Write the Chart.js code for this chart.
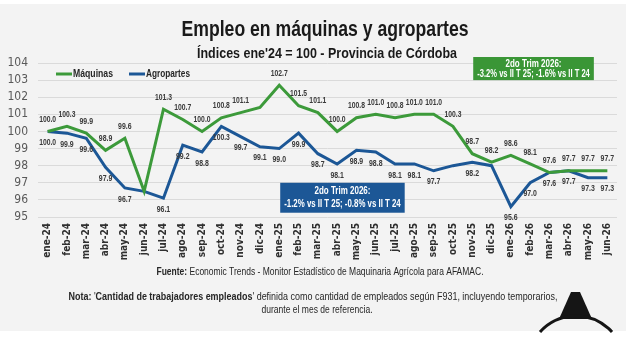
<!DOCTYPE html>
<html>
<head>
<meta charset="utf-8">
<script src="https://cdn.jsdelivr.net/npm/chart.js@4.4.0/dist/chart.umd.min.js"></script>
<style>
  html, body { margin: 0; padding: 0; background: #fff; }
  #wrap { width: 632px; height: 340px; position: relative; }
</style>
</head>
<body>
<div id="wrap"><canvas id="empleo"></canvas></div>
<script>
const meses = ['ene-24', 'feb-24', 'mar-24', 'abr-24', 'may-24', 'jun-24', 'jul-24', 'ago-24', 'sep-24', 'oct-24', 'nov-24', 'dic-24',
  'ene-25', 'feb-25', 'mar-25', 'abr-25', 'may-25', 'jun-25', 'jul-25', 'ago-25', 'sep-25', 'oct-25', 'nov-25', 'dic-25',
  'ene-26', 'feb-26', 'mar-26', 'abr-26', 'may-26', 'jun-26'];
const maquinas = [100.0, 100.3, 99.9, 98.9, 99.6, 96.5, 101.3, 100.7, 100.0, 100.8, 101.1, 101.4,
  102.7, 101.5, 101.1, 100.0, 100.8, 101.0, 100.8, 101.0, 101.0, 100.3, 98.7, 98.2,
  98.6, 98.1, 97.6, 97.7, 97.7, 97.7];
const agropartes = [100.0, 99.9, 99.6, 97.9, 96.7, 96.5, 96.1, 99.2, 98.8, 100.3, 99.7, 99.1,
  99.0, 99.9, 98.7, 98.1, 98.9, 98.8, 98.1, 98.1, 97.7, 98.0, 98.2, 98.0,
  95.6, 97.0, 97.6, 97.7, 97.3, 97.3];
const yTicks = [95, 96, 97, 98, 99, 100, 101, 102, 103, 104];
// puntos sin etiqueta en el original
const sinEtiquetaMaq = [5, 11];
const sinEtiquetaAgro = [5, 21, 23];

const VERDE = '#3c9a3a';
const AZUL = '#1c5796';
const FAM = '"Liberation Sans", Arial, sans-serif';
const NARROW = '"Liberation Sans Narrow", "DejaVu Sans Condensed", sans-serif';

// texto con ancho fijo: se comprime en horizontal (fuente condensada del original)
function texto(c, text, weight, size, width, x, y, color, align) {
  c.save();
  c.font = weight + ' ' + size + 'px ' + FAM;
  const k = width / c.measureText(text).width;
  c.fillStyle = color;
  c.textAlign = align || 'center';
  c.textBaseline = 'middle';
  c.translate(x, y);
  c.scale(k, 1);
  c.fillText(text, 0, 0);
  c.restore();
}

function runs(c, partes, size, width, cx, cy, color) {
  c.save();
  let total = 0;
  partes.forEach(p => { c.font = p[1] + ' ' + size + 'px ' + FAM; total += c.measureText(p[0]).width; });
  c.translate(cx - width / 2, cy);
  c.scale(width / total, 1);
  c.textAlign = 'left';
  c.textBaseline = 'middle';
  c.fillStyle = color;
  let x = 0;
  partes.forEach(p => {
    c.font = p[1] + ' ' + size + 'px ' + FAM;
    c.fillText(p[0], x, 0);
    x += c.measureText(p[0]).width;
  });
  c.restore();
}

function caja(chart, x0, x1, y0, y1, color, l1, l2) {
  const c = chart.ctx;
  const sx = chart.scales.x, sy = chart.scales.y;
  const left = sx.getPixelForValue(x0), right = sx.getPixelForValue(x1);
  const top = sy.getPixelForValue(y0), bottom = sy.getPixelForValue(y1);
  c.fillStyle = color;
  c.fillRect(left, top, right - left, bottom - top);
  const cx = (left + right) / 2, h = bottom - top;
  texto(c, l1, 'bold', 11, 56, cx, top + h * 0.29, '#fff');
  texto(c, l2, 'bold', 11, (right - left) - 8, cx, top + h * 0.72, '#fff');
}

const decor = {
  id: 'decor',
  beforeDraw(chart) {
    const c = chart.ctx;
    c.save();
    c.fillStyle = '#ffffff';
    c.fillRect(0, 0, chart.width, chart.height);
    c.fillStyle = '#f3f3f3';
    c.fillRect(0, 4, 626, 327);
    c.restore();
  },
  afterDraw(chart) {
    const c = chart.ctx;
    c.save();
    texto(c, 'Empleo en máquinas y agropartes', 'bold', 22, 287, 325, 30, '#1a1a1a');
    texto(c, "Índices ene'24 = 100 - Provincia de Córdoba", 'bold', 15, 260, 327, 54, '#1a1a1a');

    // leyenda
    c.lineWidth = 3;
    c.strokeStyle = VERDE;
    c.beginPath(); c.moveTo(56, 74); c.lineTo(72, 74); c.stroke();
    c.strokeStyle = AZUL;
    c.beginPath(); c.moveTo(129, 74); c.lineTo(145, 74); c.stroke();
    texto(c, 'Máquinas', 'bold', 11, 40, 73, 74, '#262626', 'left');
    texto(c, 'Agropartes', 'bold', 11, 44, 146, 74, '#262626', 'left');

    caja(chart, 22.05, 28.3, 104.35, 103.0, '#3a9636', '2do Trim 2026:', '-3.2% vs II T 25; -1.6% vs II T 24');
    caja(chart, 12.05, 18.5, 97.0, 95.25, AZUL, '2do Trim 2026:', '-1.2% vs II T 25; -0.8% vs II T 24');

    // fuente y nota
    runs(c, [['Fuente:', 'bold'], [' Economic Trends - Monitor Estadístico de Maquinaria Agrícola para AFAMAC.', 'normal']],
      11, 327, 320, 272, '#262626');
    runs(c, [['Nota: ', 'bold'], ["'", 'normal'], ['Cantidad de trabajadores empleados', 'bold'],
      ["' definida como cantidad de empleados según F931, incluyendo temporarios,", 'normal']],
      11, 489, 313, 297, '#262626');
    texto(c, 'durante el mes de referencia.', 'normal', 11, 111, 317, 310, '#262626');

    // logo
    c.fillStyle = '#151515';
    c.beginPath();
    c.moveTo(571, 292); c.lineTo(580, 292); c.lineTo(592, 319); c.lineTo(559, 319);
    c.closePath(); c.fill();
    c.strokeStyle = '#151515'; c.lineWidth = 3;
    c.beginPath(); c.arc(576, 364.5, 48.5, Math.PI + 0.734, 2 * Math.PI - 0.734); c.stroke();
    c.restore();
  }
};

const etiquetas = {
  id: 'etiquetas',
  afterDatasetsDraw(chart) {
    const c = chart.ctx;
    chart.data.datasets.forEach((ds, i) => {
      chart.getDatasetMeta(i).data.forEach((pt, j) => {
        if (ds.ocultas.includes(j)) return;
        const t = ds.data[j].toFixed(1);
        texto(c, t, 'bold', 9.5, t.length === 5 ? 17 : 13.5, pt.x, pt.y + ds.desplaz, '#3a3a3a');
      });
    });
  }
};

new Chart(document.getElementById('empleo'), {
  type: 'line',
  data: {
    labels: meses,
    datasets: [
      {
        label: 'Máquinas',
        data: maquinas,
        borderColor: VERDE,
        borderWidth: 3,
        pointRadius: 0,
        ocultas: sinEtiquetaMaq,
        desplaz: -12,
      },
      {
        label: 'Agropartes',
        data: agropartes,
        borderColor: AZUL,
        borderWidth: 3,
        pointRadius: 0,
        ocultas: sinEtiquetaAgro,
        desplaz: 11,
      },
    ]
  },
  options: {
    responsive: true,
    maintainAspectRatio: false,
    animation: false,
    devicePixelRatio: 1,
    layout: { padding: { top: 63, left: 0, right: 15, bottom: 0 } },
    plugins: {
      legend: { display: false },
      title: { display: false },
      tooltip: { enabled: false },
    },
    scales: {
      x: {
        offset: true,
        grid: { display: false, drawTicks: false },
        border: { display: false },
        ticks: {
          minRotation: 90,
          maxRotation: 90,
          autoSkip: false,
          padding: 6,
          color: '#303030',
          font: { family: NARROW, size: 10, weight: 'bold' },
        },
        afterFit(scale) { scale.height = 123; },
      },
      y: {
        min: 95,
        max: 104,
        afterBuildTicks(scale) { scale.ticks = yTicks.map(v => ({ value: v })); },
        grid: { color: '#dadada', drawTicks: false },
        border: { display: false },
        ticks: {
          autoSkip: false,
          padding: 10,
          color: '#595959',
          font: { family: NARROW, size: 12 },
        },
        afterFit(scale) { scale.width = 38; },
      },
    },
  },
  plugins: [decor, etiquetas],
});
</script>
</body>
</html>
